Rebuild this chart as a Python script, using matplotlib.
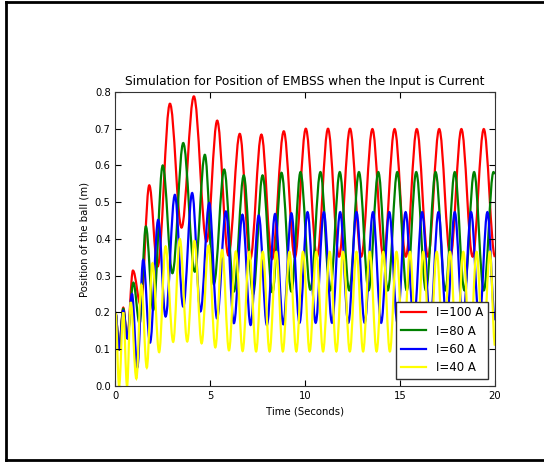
import matplotlib
matplotlib.use("Agg")
import matplotlib.pyplot as plt
import matplotlib.lines as mlines
from matplotlib.path import Path
from matplotlib.patches import PathPatch

# Extrema (Zeit in s, Position in m)
red_t = [0, 0.19, 0.41, 0.62, 0.92, 1.33, 1.78, 2.22, 2.87, 3.48, 4.13, 4.80, 5.36, 5.95,
         6.55, 7.10, 7.69, 8.25, 8.87, 9.45, 10.03, 10.62, 11.20, 11.78, 12.36, 12.95,
         13.54, 14.12, 14.71, 15.30, 15.88, 16.47, 17.06, 17.65, 18.23, 18.82, 19.41, 20.0]
red_y = [0.20, 0.10, 0.213, 0.13, 0.314, 0.22, 0.546, 0.325, 0.768, 0.431, 0.788, 0.393,
         0.722, 0.355, 0.686, 0.345, 0.684, 0.345, 0.693, 0.350, 0.700, 0.352, 0.700,
         0.352, 0.700, 0.352, 0.699, 0.352, 0.699, 0.352, 0.699, 0.352, 0.699, 0.352,
         0.699, 0.352, 0.699, 0.352]

green_t = [0, 0.19, 0.41, 0.62, 0.94, 1.27, 1.60, 1.99, 2.49, 3.00, 3.57, 4.18, 4.71, 5.18,
           5.73, 6.24, 6.76, 7.25, 7.75, 8.27, 8.75, 9.27, 9.75, 10.27, 10.80, 11.31,
           11.82, 12.32, 12.83, 13.34, 13.85, 14.35, 14.85, 15.35, 15.85, 16.36, 16.87,
           17.38, 17.88, 18.39, 18.90, 19.41, 19.92, 20.0]
green_y = [0.20, 0.10, 0.21, 0.13, 0.281, 0.17, 0.434, 0.207, 0.600, 0.307, 0.661, 0.311,
           0.629, 0.277, 0.589, 0.257, 0.573, 0.250, 0.573, 0.255, 0.580, 0.257, 0.582,
           0.262, 0.582, 0.260, 0.582, 0.260, 0.582, 0.260, 0.582, 0.260, 0.582, 0.260,
           0.582, 0.260, 0.582, 0.260, 0.582, 0.260, 0.582, 0.260, 0.582, 0.578]

blue_t = [0, 0.19, 0.41, 0.62, 0.87, 1.15, 1.46, 1.82, 2.25, 2.64, 3.13, 3.57, 4.04, 4.48,
          4.94, 5.35, 5.82, 6.24, 6.69, 7.12, 7.55, 7.98, 8.41, 8.84, 9.27, 9.70, 10.12,
          10.55, 10.98, 11.41, 11.84, 12.27, 12.70, 13.13, 13.57, 14.00, 14.43, 14.86,
          15.29, 15.72, 16.16, 16.59, 17.02, 17.45, 17.88, 18.31, 18.74, 19.17, 19.60, 20.0]
blue_y = [0.20, 0.10, 0.205, 0.13, 0.250, 0.050, 0.343, 0.118, 0.452, 0.189, 0.520, 0.216,
          0.525, 0.203, 0.498, 0.184, 0.475, 0.171, 0.466, 0.166, 0.464, 0.166, 0.468,
          0.168, 0.470, 0.172, 0.473, 0.172, 0.473, 0.172, 0.473, 0.172, 0.473, 0.172,
          0.473, 0.172, 0.473, 0.172, 0.473, 0.172, 0.473, 0.172, 0.473, 0.172, 0.473,
          0.172, 0.473, 0.172, 0.473, 0.180]

yellow_t = [0, 0.19, 0.41, 0.61, 0.80, 1.10, 1.36, 1.65, 1.95, 2.30, 2.64, 3.04, 3.39, 3.78,
            4.16, 4.54, 4.90, 5.26, 5.62, 5.98, 6.34, 6.70, 7.05, 7.41, 7.76, 8.12, 8.47,
            8.82, 9.17, 9.53, 9.88, 10.23, 10.58, 10.94, 11.29, 11.64, 11.99, 12.35, 12.70,
            13.05, 13.40, 13.76, 14.11, 14.46, 14.81, 15.17, 15.52, 15.87, 16.22, 16.58,
            16.93, 17.28, 17.63, 17.98, 18.33, 18.68, 19.03, 19.38, 19.73, 20.0]
yellow_y = [0.20, 0.0, 0.20, 0.0, 0.228, 0.02, 0.275, 0.05, 0.334, 0.092, 0.380, 0.120,
            0.400, 0.121, 0.395, 0.116, 0.382, 0.105, 0.370, 0.097, 0.366, 0.095, 0.365,
            0.094, 0.365, 0.094, 0.365, 0.094, 0.365, 0.094, 0.365, 0.094, 0.365, 0.094,
            0.365, 0.094, 0.365, 0.094, 0.365, 0.094, 0.365, 0.094, 0.365, 0.094, 0.365,
            0.094, 0.365, 0.094, 0.365, 0.094, 0.365, 0.094, 0.365, 0.094, 0.365, 0.094,
            0.365, 0.094, 0.365, 0.110]

labels = ['I=100 A', 'I=80 A', 'I=60 A', 'I=40 A']
colors = ['#ff0000', '#008000', '#0000ff', '#ffff00']
series = [(red_t, red_y), (green_t, green_y), (blue_t, blue_y), (yellow_t, yellow_y)]


# glatte Kurve durch die Extrema (kubische Bezier, waagrechte Tangenten)
def smoothPath(t, y, k=0.36):
    verts = [(t[0], y[0])]
    codes = [Path.MOVETO]
    for i in range(1, len(t)):
        dt = t[i] - t[i-1]
        verts += [(t[i-1] + k*dt, y[i-1]), (t[i] - k*dt, y[i]), (t[i], y[i])]
        codes += [Path.CURVE4]*3
    return Path(verts, codes)


fig = plt.figure(figsize=(5.44, 4.66), dpi=100)
ax = fig.add_axes([0.2123, 0.1717, 0.6976, 0.6309])

handles = []
for (t, y), c, lab in zip(series, colors, labels):
    ax.add_patch(PathPatch(smoothPath(t, y), facecolor='none', edgecolor=c, lw=1.6))
    handles.append(mlines.Line2D([], [], color=c, lw=1.6, label=lab))

ax.set_xlim(0, 20)
ax.set_ylim(0, 0.8)
ax.set_xticks([0, 5, 10, 15, 20])
ax.set_yticks([0.0, 0.1, 0.2, 0.3, 0.4, 0.5, 0.6, 0.7, 0.8])
ax.tick_params(direction='in', top=True, right=True, labelsize=7.2, length=4, pad=3.5)
for s in ax.spines.values():
    s.set_color('#333333')

ax.set_title('Simulation for Position of EMBSS when the Input is Current', fontsize=8.8, pad=5)
ax.set_xlabel('Time (Seconds)', fontsize=7.3, labelpad=4)
ax.set_ylabel('Position of the ball (m)', fontsize=7.3, labelpad=4)

leg = ax.legend(handles=handles, loc='lower right', fontsize=8.5, fancybox=False,
                framealpha=1, borderaxespad=0.6, handlelength=2.2, labelspacing=0.45)
leg.get_frame().set_edgecolor('#333333')

# Rahmen um die Abbildung
fig.add_artist(mlines.Line2D([6/544, 6/544], [1 - 1.5/466, 1 - 459.5/466],
                             transform=fig.transFigure, color='k', lw=2))
fig.add_artist(mlines.Line2D([6/544, 1], [1 - 1.5/466, 1 - 1.5/466],
                             transform=fig.transFigure, color='k', lw=2))
fig.add_artist(mlines.Line2D([6/544, 1], [1 - 459.5/466, 1 - 459.5/466],
                             transform=fig.transFigure, color='k', lw=2))

fig.savefig('out.png', dpi=100)
